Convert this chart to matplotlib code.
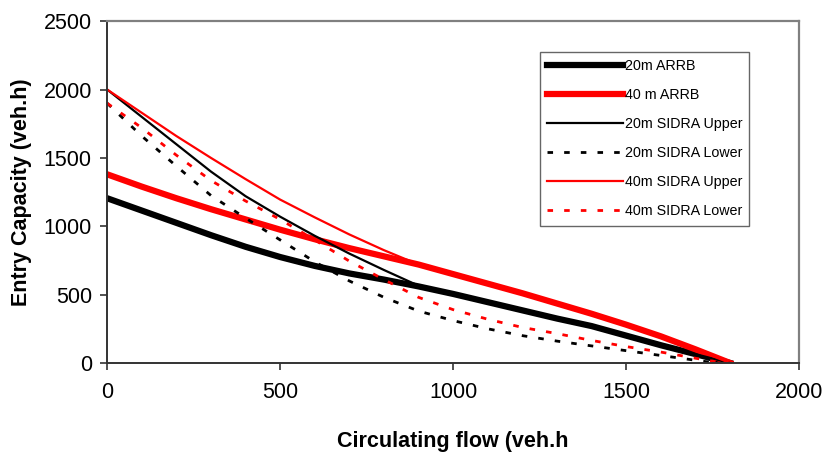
import matplotlib
matplotlib.use("Agg")
import matplotlib.pyplot as plt

plt.rcParams['font.family'] = ['Liberation Sans', 'DejaVu Sans']

# circulating flow (veh/h)
flow = [0, 100, 200, 300, 400, 500, 600, 700, 800, 900,
        1000, 1100, 1200, 1300, 1400, 1500, 1600, 1700, 1800]

arrb_20 = [1205, 1115, 1025, 935, 850, 775, 710, 655, 610, 560,
           505, 445, 385, 325, 270, 200, 130, 65, 0]
arrb_40 = [1380, 1290, 1205, 1125, 1050, 975, 905, 840, 780, 720,
           650, 580, 510, 435, 360, 280, 195, 100, 0]
sidra_up_20 = [2000, 1800, 1600, 1400, 1220, 1070, 930, 800, 680, 565,
               505, 445, 385, 325, 270, 200, 130, 65, 0]
sidra_up_40 = [2000, 1830, 1660, 1500, 1345, 1195, 1065, 940, 825, 720,
               650, 580, 510, 435, 360, 280, 195, 100, 0]

flow_low = [0, 100, 200, 300, 400, 500, 600, 700, 800, 900,
            1000, 1100, 1200, 1300, 1400, 1500, 1600, 1700, 1760]
sidra_low_20 = [1900, 1660, 1440, 1225, 1060, 900, 740, 600, 480, 380,
                310, 250, 200, 160, 125, 90, 55, 20, 0]
flow_low_40 = [0, 100, 200, 300, 400, 500, 600, 700, 800, 900,
               1000, 1100, 1200, 1300, 1400, 1500, 1600, 1700, 1780]
sidra_low_40 = [1900, 1720, 1520, 1335, 1185, 1050, 900, 745, 610, 480,
                390, 320, 260, 215, 165, 120, 80, 35, 0]

fig = plt.figure(figsize=(8.24, 4.57), dpi=100)
ax = fig.add_axes([0.130, 0.2057, 0.840, 0.748])

dash = (0, (2, 4))
ax.plot(flow, arrb_20, color='black', lw=4.5, label='20m ARRB')
ax.plot(flow, arrb_40, color='red', lw=4.5, label='40 m ARRB')
ax.plot(flow, sidra_up_20, color='black', lw=1.6, label='20m SIDRA Upper')
ax.plot(flow_low, sidra_low_20, color='black', lw=2.0, linestyle=dash,
        label='20m SIDRA Lower')
ax.plot(flow, sidra_up_40, color='red', lw=1.6, label='40m SIDRA Upper')
ax.plot(flow_low_40, sidra_low_40, color='red', lw=2.0, linestyle=dash,
        label='40m SIDRA Lower')

ax.set_xlim(0, 2000)
ax.set_ylim(0, 2500)
ax.set_xticks([0, 500, 1000, 1500, 2000])
ax.set_yticks([0, 500, 1000, 1500, 2000, 2500])

for s in ['top', 'right']:
    ax.spines[s].set_color('#808080')
    ax.spines[s].set_linewidth(1.6)
for s in ['left', 'bottom']:
    ax.spines[s].set_color('#333333')
    ax.spines[s].set_linewidth(1.4)

ax.tick_params(axis='both', direction='out', length=5, width=1.2,
               colors='#333333', labelcolor='black', labelsize=15.5)
ax.tick_params(axis='x', pad=9)
ax.tick_params(axis='y', pad=6)

ax.set_xlabel('Circulating flow (veh.h', fontsize=15.5, fontweight='bold',
              labelpad=20)
ax.set_ylabel('Entry Capacity (veh.h)', fontsize=15.5, fontweight='bold',
              labelpad=8)

leg = ax.legend(loc='upper left', bbox_to_anchor=(0.6257, 0.9094),
                fontsize=10.3, handlelength=5.3, handletextpad=0.1,
                labelspacing=1.05, borderpad=0.5, fancybox=False,
                framealpha=1, borderaxespad=0)
leg.get_frame().set_edgecolor('#666666')
leg.get_frame().set_linewidth(1.0)

fig.savefig('out.png', dpi=100)
